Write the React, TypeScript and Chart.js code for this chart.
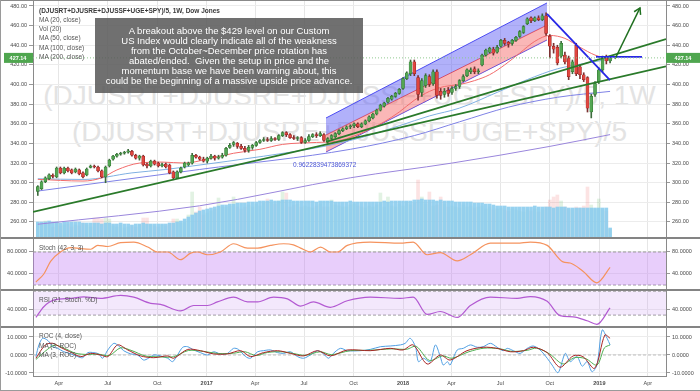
import React, { useEffect, useRef } from "react";
import { Chart, registerables } from "chart.js";

Chart.register(...registerables);

const FONT = "'Liberation Sans', Arial, sans-serif";
const START_UTC = Date.UTC(2016, 1, 22);
const WEEK_MS = 7 * 24 * 3600 * 1000;
const X_MIN = -1.275;
const X_MAX = 166.85;

const TICK_LABELS = ["Apr", "Jul", "Oct", "2017", "Apr", "Jul", "Oct", "2018", "Apr", "Jul", "Oct", "2019", "Apr"];
const TICK_MONTHS = [[2016, 3], [2016, 6], [2016, 9], [2017, 0], [2017, 3], [2017, 6], [2017, 9], [2018, 0], [2018, 3], [2018, 6], [2018, 9], [2019, 0], [2019, 3]];
const TICK_POS = TICK_MONTHS.map(([yy, mm]) => (Date.UTC(yy, mm, 1) - START_UTC) / WEEK_MS);

const OPEN = [
  291, 294, 301, 304, 307.5, 306, 315, 310, 315, 313,
  311, 313, 310, 308, 315.5, 317, 316, 312, 306, 317,
  324, 327, 329, 330, 331, 332, 328, 325, 327, 319,
  317, 322, 320, 317, 319, 318, 311, 305, 311, 316,
  318, 320, 328, 326, 324, 322, 325, 327, 325, 326,
  328, 336, 339, 340, 337, 335, 333, 336, 338, 341,
  343, 344, 343, 345, 344, 348, 351, 349, 346, 345,
  346, 341, 343, 347, 349, 348, 349, 342, 345, 347,
  350, 353, 355, 357, 358, 360, 357, 360, 363, 366,
  370, 374, 378, 382, 385, 388, 391, 396, 406, 411,
  423, 407, 392, 399, 408, 401, 413, 393, 390, 394,
  392, 396, 398, 404, 409, 413, 416, 413, 420, 430,
  433, 436, 433, 439, 445, 443, 442, 445, 449, 453,
  462, 468, 465, 468, 466, 470, 449, 439, 438, 429,
  430, 427, 413, 440, 418, 410, 407, 372, 390, 403,
  415, 427, 424,
];
const HIGH = [
  297, 302, 306, 309, 309, 316, 316, 316, 316, 314,
  315, 314, 311, 315, 318, 318, 317, 313, 317, 324,
  328, 330, 331, 332, 334, 333, 329, 328, 328, 320,
  323, 323, 321, 320, 320, 319, 312, 312, 316, 321,
  321, 330, 329, 327, 326, 326, 329, 328, 328, 330,
  336, 340, 342, 341, 339, 337, 338, 339, 342, 344,
  346, 346, 347, 346, 349, 352, 352, 350, 348, 347,
  347, 345, 349, 350, 351, 352, 350, 346, 349, 351,
  354, 356, 358, 359, 361, 361, 361, 364, 368, 371,
  375, 380, 382, 387, 389, 392, 396, 407, 413, 425,
  425, 409, 406, 411, 410, 415, 415, 396, 396, 397,
  398, 400, 405, 410, 416, 417, 418, 416, 431, 436,
  438, 438, 440, 446, 447, 444, 446, 449, 455, 460,
  468, 469, 469, 470, 472, 473, 451, 442, 440, 444,
  433, 429, 425, 442, 420, 412, 408, 390, 403, 417,
  429, 430, 429,
];
const LOW = [
  287, 293, 300, 303, 305, 305, 309, 309, 311, 309,
  310, 308, 305, 307, 315, 315, 311, 305, 300, 316,
  323, 326, 328, 329, 330, 327, 324, 323, 317, 315,
  316, 318, 316, 316, 315, 309, 303, 304, 310, 315,
  317, 319, 325, 323, 321, 320, 324, 323, 324, 325,
  327, 335, 337, 335, 334, 331, 331, 334, 337, 340,
  342, 342, 342, 343, 343, 347, 347, 345, 344, 343,
  340, 340, 342, 346, 346, 347, 342, 340, 344, 346,
  349, 352, 354, 355, 356, 356, 356, 359, 362, 365,
  369, 373, 377, 381, 384, 387, 390, 395, 405, 409,
  409, 384, 388, 397, 398, 399, 386, 385, 387, 388,
  390, 394, 396, 403, 408, 411, 411, 411, 419, 429,
  432, 430, 432, 438, 440, 438, 440, 444, 448, 452,
  461, 463, 464, 465, 465, 450, 427, 432, 420, 427,
  421, 405, 411, 409, 406, 403, 372, 366, 388, 401,
  413, 421, 422,
];
const CLOSE = [
  296, 301, 305, 308, 306.5, 315, 310, 315, 312, 310,
  314, 309, 306, 314, 317, 316, 312, 306, 316, 323,
  327, 329, 330, 331, 332.5, 328, 325, 327, 318, 317,
  322, 319, 317, 318.5, 316, 310, 305, 311, 315, 320,
  320, 328, 326, 324, 322, 325, 327, 325, 326, 328,
  335, 338, 341, 337, 335, 333, 336, 338, 341, 343,
  344, 343, 345, 344, 348, 351, 349, 346, 345, 346,
  341, 343, 347, 349, 348, 350, 343, 345, 348, 350,
  353, 355, 357, 358, 360, 357, 360, 363, 367, 370,
  374, 379, 381, 386, 388, 391, 395, 406, 412, 423,
  411, 390, 404, 409, 400, 413, 389, 389, 393, 391,
  396, 398, 404, 408, 415, 415, 413, 414, 430, 435,
  437, 432, 438, 445, 442, 441, 445, 448, 454, 459,
  467, 465, 468, 466, 470, 452, 439, 436, 422, 442,
  423, 408, 423, 411, 410, 405, 376, 388, 401, 415,
  427, 424, 427.14,
];
const VOLUME = [
  14, 12, 16, 13, 10, 15, 11, 12, 13, 10,
  12, 11, 14, 12, 10, 19, 19, 18, 19, 18,
  11, 10, 12, 9, 10, 11, 10, 12, 19, 19,
  12, 11, 10, 12, 11, 13, 18, 18, 14, 15,
  22, 45, 25, 30, 22, 24, 26, 28, 39, 30,
  30, 31, 40, 30, 28, 30, 32, 30, 33, 31,
  34, 38, 35, 33, 36, 45, 44, 30, 32, 33,
  30, 31, 30, 29, 31, 33, 30, 30, 37, 32,
  31, 30, 30, 32, 33, 31, 30, 29, 31, 30,
  32, 44, 30, 40, 31, 30, 33, 31, 35, 32,
  34, 57, 40, 33, 45, 31, 32, 40, 33, 30,
  31, 30, 29, 32, 30, 31, 29, 30, 31, 28,
  30, 27, 28, 29, 27, 26, 28, 27, 26, 25,
  27, 26, 28, 25, 27, 30, 37, 40, 42, 36,
  30, 28, 27, 30, 29, 31, 50, 32, 28, 38,
  27, 26, 8,
];
const VOLUME_MA = [
  15, 15, 15, 16, 15, 15, 14, 15, 15, 15,
  15, 15, 14, 14, 14, 14, 14, 13, 14, 14,
  13, 13, 14, 13, 13, 12, 13, 13, 14, 13,
  13, 13, 13, 13, 13, 14, 14, 15, 16, 18,
  20, 22, 24, 26, 27, 28, 29, 30, 31, 32,
  32, 33, 33, 34, 34, 34, 35, 35, 35, 36,
  36, 36, 37, 36, 36, 37, 37, 37, 36, 36,
  36, 36, 36, 36, 35, 36, 36, 36, 36, 35,
  35, 35, 35, 36, 35, 35, 35, 35, 35, 35,
  35, 35, 36, 35, 36, 36, 36, 36, 36, 36,
  37, 37, 38, 37, 37, 37, 36, 37, 36, 36,
  36, 35, 35, 35, 35, 35, 34, 34, 34, 33,
  33, 32, 31, 31, 31, 30, 30, 30, 30, 30,
  30, 30, 31, 30, 30, 30, 30, 29, 30, 30,
  30, 29, 29, 29, 29, 29, 29, 29, 29, 29,
  29, 29, 9,
];

const MA20 = [[0, 303.4], [12, 301.7], [17, 305], [21, 313], [27, 320], [33, 321], [39, 320], [45, 324], [52, 330], [59, 334], [65, 339], [74, 341], [79, 342], [83, 346], [88, 354], [92, 362], [96, 372], [100, 384], [104, 393], [108, 398], [112, 400], [116, 404], [120, 410], [124, 420], [128, 432], [132, 444], [136, 450], [140, 447], [144, 438], [148, 430], [152, 426]];
const MA50 = [[0, 304], [12, 303.3], [25, 310], [34, 313.5], [41, 317], [60, 327], [76, 337], [86, 346], [96, 358], [104, 368], [112, 376], [122, 392], [130, 405], [138, 416], [146, 422], [152, 426]];
const MA100 = [[0, 291.5], [43, 313.5], [83, 334], [100, 348], [112, 362], [125, 377], [138, 387], [152, 393]];
const MA200 = [[0, 257.7], [43, 276.5], [83, 305], [110, 320], [136, 337], [152, 349]];

const LOWER_TREND = [[-1.275, 270.2], [166.85, 418.6]];
const UPPER_TREND = [[76.55, 341.5], [166.85, 446.3]];
const CHANNEL_TOP = [[76.55, 365.9], [135.24, 483.1]];
const CHANNEL_MID = [[76.55, 348.6], [135.24, 460.6]];
const CHANNEL_BOTTOM = [[76.55, 331.3], [135.24, 445.4]];
const DOWN_TREND = [[135.24, 471.9], [151.97, 404.6]];
const BREAKOUT_LEVEL = [[148.26, 428.1], [160.48, 428.1]];
const TARGET_ARROW = [[153.3, 426.0], [159.94, 478.0]];
const ANGLE_LABEL = { text: "0.9622839473869372", x: 67.8, y: 318.1 };

const STOCH = [[-0.5, 25.5], [1.6, 40], [3.4, 63], [6.1, 80.5], [8.8, 88], [11.4, 86], [14.1, 85], [15.9, 92], [18.6, 90], [22, 97], [25.5, 98], [29.2, 89], [31.8, 80], [34.5, 80], [37.9, 66], [40.6, 78], [42.4, 80], [45.1, 75], [48.5, 80], [52, 95], [55.7, 87], [58.4, 87], [61.8, 92], [65.3, 95], [67.9, 93], [69.8, 87], [72.4, 80], [75.1, 89], [77.7, 80], [79.6, 80], [82.2, 92], [88.3, 98], [96.3, 96], [99.7, 98], [103.4, 75], [106.9, 79], [111.4, 64], [114.9, 75], [120.2, 96], [127.3, 96], [130.8, 98], [135.3, 92], [139.5, 62], [141.4, 60], [144.8, 45], [148.5, 24], [152, 52]];
const RSI = [[-0.5, 26], [1.6, 44], [4.2, 55], [8.8, 58], [12.2, 60.5], [16.7, 58], [22, 63], [25.5, 60], [30, 49.5], [32.6, 48], [37.9, 37], [41.4, 46], [45.1, 46], [47.7, 52], [52, 60], [55.7, 52], [58.4, 52], [62.6, 60], [66.3, 57], [69.8, 45], [73.2, 52], [77.7, 43], [82.2, 54], [88.3, 60], [96.3, 58], [99.7, 60], [103.4, 31], [106.9, 36], [111.4, 26], [114.9, 46], [120.2, 60], [127.3, 58], [130.8, 61], [135.3, 53], [138.7, 29], [142.2, 27], [145.9, 20.5], [148.5, 14.5], [152, 42]];
const ROC = [[-0.5, -0.9], [0.3, 5.6], [1.3, 9.3], [2.7, 8], [4, 4.6], [5.3, 3.7], [6.9, 1.8], [8.8, 0.6], [10.6, -0.9], [11.9, -1.5], [13.3, 1.3], [14.9, 1.3], [16.2, 0.6], [17.2, -1.8], [18.6, 2.8], [20.2, 6.5], [21.5, 5], [22.8, 2.4], [24.7, 0.6], [26.5, 0], [28.1, -2.8], [29.4, -1.8], [30.8, 0], [32.6, -0.5], [34.5, -1.8], [35.8, -3.7], [37.1, 0], [38.5, 4.3], [39.8, 4.6], [41.4, 2.8], [43.2, 1.3], [45.1, 0], [46.7, 1.8], [48.5, 0.6], [50.4, 0.9], [52, 3.7], [53.3, 3.1], [55.2, -0.9], [56.5, -1.8], [58.4, 1.8], [59.9, 2.4], [61.8, 2.8], [63.7, 1.3], [65.3, 0.9], [67.1, 1.8], [69, -0.9], [70.6, -1.8], [72.4, 0], [74.3, 2.4], [75.9, 0.6], [77.2, -1.8], [78.5, 0.9], [80.4, 3.7], [82.2, 2.4], [85.7, 2.4], [88.3, 3.1], [91, 4.6], [93.6, 5], [96.3, 5.6], [97.6, 6.5], [98.9, 9.3], [100.3, 4.6], [101.1, -3.7], [102.4, -1.8], [104.2, -3.7], [105.6, 5.6], [106.9, -0.9], [107.7, -5.6], [108.8, -3.7], [109.5, -5.6], [111.4, 2.8], [113, 3.7], [114.9, 5.6], [116.7, 4.3], [118.3, 4.6], [120.2, 6.5], [122, 4.3], [123.6, 2.4], [124.7, 3.7], [126.3, 2.4], [128.1, 0.9], [130, 3.7], [131.6, 5], [133.4, 2.8], [135.3, -1.8], [136.6, -5.6], [138.2, -9.8], [140.1, 0.9], [141.4, -3.7], [143.2, -0.9], [144.6, -6.2], [145.9, -3.7], [147.2, -9.3], [148.5, -5.6], [149.9, 13.9], [151.2, 9.3], [152, 5.6]];
const ROC_MA_RED = [[-0.5, -1.8], [2, 5.6], [4, 6.5], [6, 4.3], [8.5, 1.8], [11.4, -0.9], [14, 0.9], [16.7, 0], [18.6, -0.9], [21.2, 5.6], [23.9, 2.8], [27.3, -0.5], [30.8, -1.5], [34.5, -0.5], [36.1, -1.8], [39.8, 3.1], [43.2, 2.4], [46.7, 0.6], [50.4, 0.6], [53.9, 2.4], [56.5, -0.9], [59.9, 1.3], [63.7, 2.4], [67.1, 0.9], [70.6, -0.5], [74.3, 2.4], [77.7, -0.5], [82.2, 2.8], [88.3, 2.4], [93.6, 3.7], [97, 2.8], [99.7, 5.6], [103.4, -5], [106.9, 0], [109.5, -2.8], [114, 2.4], [118.3, 4.3], [122, 3.7], [125.5, 1.8], [129, 2.4], [131.6, 4.3], [135.3, 1.3], [138.7, -6.8], [142.2, -0.5], [144.8, -0.9], [147.9, -7.4], [150.6, 11.1], [152, 9.3]];
const ROC_MA_GREEN = [[-0.5, -2.5], [2.5, 3], [4.5, 5.5], [7, 3.8], [10, 1], [13, 0.3], [16, 0.5], [19, -0.3], [22, 4], [25, 2.4], [28.5, -0.5], [32, -1], [36, -1], [40, 2.5], [44, 2], [48, 0.8], [52, 1], [55, 1.8], [58, -0.3], [61, 1.4], [65, 1.8], [68, 0.8], [71, -0.2], [75, 1.8], [78, 0.2], [83, 2.4], [88, 2.6], [94, 3.4], [98, 3.2], [100.5, 4.8], [104, -3], [107.5, -0.5], [110, -1.8], [114.5, 1.8], [118.5, 3.8], [122.5, 3.5], [126, 2], [130, 2.6], [132.5, 3.8], [136, 0.5], [139.5, -5], [142.5, -1.5], [145.5, -2], [148.5, -5.6], [150.5, 4], [152, 5.6]];

const PRICE_TICKS = [260, 280, 300, 320, 340, 360, 380, 400, 420, 440, 460, 480];
const STOCH_TICKS = [40, 80];
const RSI_TICKS = [40];
const ROC_TICKS = [-10, 0, 10];
const STOCH_BAND = [20, 80];
const RSI_BAND = [30, 70];
const ROC_ZERO = [0];
const LAST_CLOSE = CLOSE[CLOSE.length - 1];

const LEGEND_TITLE = "(DJUSRT+DJUSRE+DJUSSF+UGE+SPY)/5, 1W, Dow Jones";
const LEGEND_ITEMS = ["MA (20, close)", "Vol (20)", "MA (50, close)", "MA (100, close)", "MA (200, close)"];
const WATERMARK = ["(DJUSRT+DJUSRE+DJUSSF+UGE+SPY)/5, 1W", "(DJUSRT+DJUSRE+DJUSSF+UGE+SPY)/5"];
const NOTE_LINES = [
  "A breakout above the $429 level on our Custom",
  "US Index would clearly indicate all of the weakness",
  "from the October~December price rotation has",
  "abated/ended.  Given the setup in price and the",
  "momentum base we have been warning about, this",
  "could be the beginning of a massive upside price advance.",
];
const STOCH_TITLE = "Stoch (42, 3, 3)";
const RSI_TITLE = "RSI (21, Stoch. %D)";
const ROC_TITLES = ["ROC (4, close)", "MA (3, ROC)", "MA (3, ROC)"];

const pts = (arr: number[][]) => arr.map(([x, y]) => ({ x, y }));
const hline = (v: number) => [{ x: X_MIN, y: v }, { x: X_MAX, y: v }];
const IDX = CLOSE.map((_, i) => i);
const isUp = (i: number) => CLOSE[i] >= OPEN[i];

const common: any = {
  responsive: false,
  animation: false,
  events: [],
  layout: { padding: 0 },
  plugins: { legend: { display: false }, tooltip: { enabled: false } },
};

function xAxis(showLabels: boolean): any {
  return {
    type: "linear",
    min: X_MIN,
    max: X_MAX,
    offset: false,
    grid: { color: "#e6e6e6", drawTicks: false, offset: false },
    border: { display: showLabels, color: "#8a8a8a" },
    ticks: {
      display: showLabels,
      autoSkip: false,
      maxRotation: 0,
      padding: 4,
      color: "#4a4a4a",
      font: (c: any) => ({ size: 5.5, family: FONT, weight: /^\d{4}$/.test(TICK_LABELS[c.index] || "") ? "bold" : "normal" }),
      callback: (_v: any, i: number) => TICK_LABELS[i],
    },
    afterBuildTicks: (s: any) => {
      s.ticks = TICK_POS.map((v) => ({ value: v }));
    },
    afterFit: (s: any) => {
      s.height = showLabels ? 15 : 0;
      s.paddingLeft = 0;
      s.paddingRight = 0;
    },
  };
}

function yPair(min: number, max: number, values: number[], digits: number): any {
  const ticks = { color: "#4a4a4a", font: { size: 5.5, family: FONT }, padding: 2, callback: (v: any) => Number(v).toFixed(digits) };
  const build = (s: any) => {
    s.ticks = values.map((v) => ({ value: v }));
  };
  return {
    y: {
      type: "linear", position: "left", min, max,
      grid: { color: "#ececec", tickLength: 4, tickColor: "#999" },
      border: { color: "#8a8a8a" },
      ticks, afterBuildTicks: build,
      afterFit: (s: any) => { s.width = 33; s.paddingTop = 0; s.paddingBottom = 0; },
    },
    y2: {
      type: "linear", position: "right", min, max,
      grid: { drawOnChartArea: false, tickLength: 4, tickColor: "#999" },
      border: { color: "#8a8a8a" },
      ticks, afterBuildTicks: build,
      afterFit: (s: any) => { s.width = 34; s.paddingTop = 0; s.paddingBottom = 0; },
    },
  };
}

const line = (data: any, color: string, width: number, order: number, extra: any = {}) => ({
  type: "line", data, borderColor: color, borderWidth: width, pointRadius: 0, fill: false, order, ...extra,
});

const mainExtras = {
  id: "mainExtras",
  afterDatasetsDraw(chart: any) {
    const { ctx, scales } = chart;
    const x = scales.x, y = scales.y;
    const ai = chart.data.datasets.findIndex((d: any) => d.label === "arrow");
    const meta = chart.getDatasetMeta(ai);
    const p0 = meta.data[0], p1 = meta.data[1];
    const ang = Math.atan2(p1.y - p0.y, p1.x - p0.x);
    ctx.save();
    ctx.strokeStyle = "#1f6f1f";
    ctx.lineWidth = 1.5;
    ctx.beginPath();
    ctx.moveTo(p1.x + 7 * Math.cos(ang + 2.6), p1.y + 7 * Math.sin(ang + 2.6));
    ctx.lineTo(p1.x, p1.y);
    ctx.lineTo(p1.x + 7 * Math.cos(ang - 2.6), p1.y + 7 * Math.sin(ang - 2.6));
    ctx.stroke();
    ctx.fillStyle = "#4a55d8";
    ctx.font = `6.5px ${FONT}`;
    ctx.textBaseline = "middle";
    ctx.textAlign = "left";
    ctx.fillText(ANGLE_LABEL.text, x.getPixelForValue(ANGLE_LABEL.x), y.getPixelForValue(ANGLE_LABEL.y));
    ctx.restore();
  },
  afterDraw(chart: any) {
    const { ctx, chartArea, scales } = chart;
    const py = scales.y.getPixelForValue(LAST_CLOSE);
    ctx.save();
    ctx.fillStyle = "#4fa64f";
    ctx.fillRect(chartArea.left - 29, py - 5, 29, 10);
    ctx.fillRect(chartArea.right, py - 5, chart.width - chartArea.right, 10);
    ctx.fillStyle = "#fff";
    ctx.font = `bold 5.5px ${FONT}`;
    ctx.textBaseline = "middle";
    ctx.textAlign = "center";
    const label = LAST_CLOSE.toFixed(2);
    ctx.fillText(label, chartArea.left - 15, py + 0.5);
    ctx.fillText(label, (chartArea.right + chart.width) / 2, py + 0.5);
    ctx.restore();
  },
};

function mainConfig(): any {
  return {
    type: "bar",
    data: {
      datasets: [
        line(hline(LAST_CLOSE), "#8fc98f", 1, 1, { borderDash: [1, 2] }),
        line(pts(TARGET_ARROW), "#1f6f1f", 1.5, 2, { label: "arrow" }),
        line(pts(BREAKOUT_LEVEL), "#2727e6", 1.8, 3),
        line(pts(DOWN_TREND), "#2727e6", 1.8, 3),
        line(pts(UPPER_TREND), "#2a7a2a", 1.8, 4),
        line(pts(LOWER_TREND), "#2a7a2a", 1.8, 4),
        {
          type: "bar", order: 10, grouped: false, barThickness: 3, minBarLength: 1,
          data: IDX.map((i) => ({ x: i, y: [OPEN[i], CLOSE[i]] })),
          backgroundColor: IDX.map((i) => (isUp(i) ? "#53a653" : "#e0463f")),
          borderColor: IDX.map((i) => (isUp(i) ? "#2f6f2f" : "#8a2020")),
          borderWidth: 0.5, borderSkipped: false,
        },
        {
          type: "bar", order: 11, grouped: false, barThickness: 1,
          data: IDX.map((i) => ({ x: i, y: [LOW[i], HIGH[i]] })),
          backgroundColor: IDX.map((i) => (isUp(i) ? "#3d6b3d" : "#7a3030")),
        },
        line(pts(MA20), "#f26b6b", 1, 20, { tension: 0.4, cubicInterpolationMode: "monotone" }),
        line(pts(MA50), "#7fb0e2", 1, 21, { tension: 0.4, cubicInterpolationMode: "monotone" }),
        line(pts(MA100), "#7f82e6", 1, 21, { tension: 0.4, cubicInterpolationMode: "monotone" }),
        line(pts(MA200), "#9a86dc", 1, 21, { tension: 0.4, cubicInterpolationMode: "monotone" }),
        line(pts(CHANNEL_TOP), "#4b4bf2", 1, 30, { fill: "+1", backgroundColor: "rgba(92,92,245,0.48)" }),
        line(pts(CHANNEL_MID), "#f04a4a", 1, 30, { fill: "+1", backgroundColor: "rgba(245,95,95,0.45)" }),
        line(pts(CHANNEL_BOTTOM), "#4b4bf2", 1, 30),
        {
          type: "bar", order: 40, grouped: false, barThickness: 3, yAxisID: "yv",
          data: IDX.map((i) => ({ x: i, y: VOLUME_MA[i] })),
          backgroundColor: "rgba(140,205,238,0.9)",
        },
        {
          type: "bar", order: 41, grouped: false, barThickness: 3, yAxisID: "yv",
          data: IDX.map((i) => ({ x: i, y: VOLUME[i] })),
          backgroundColor: IDX.map((i) => (isUp(i) ? "rgba(76,175,80,0.16)" : "rgba(239,83,80,0.16)")),
        },
      ],
    },
    options: {
      ...common,
      scales: {
        x: xAxis(false),
        ...yPair(244.7, 486.1, PRICE_TICKS, 2),
        yv: { type: "linear", display: false, min: 0, max: 237 },
      },
    },
    plugins: [mainExtras],
  };
}

function bandConfig(band: number[], fillColor: string, series: any[], min: number, max: number, ticks: number[], showX: boolean): any {
  const ds: any[] = [];
  if (band.length === 2) {
    ds.push(line(hline(band[1]), "#9a9a9a", 1, 50, { borderDash: [3, 2], fill: "+1", backgroundColor: fillColor }));
    ds.push(line(hline(band[0]), "#9a9a9a", 1, 50, { borderDash: [3, 2] }));
  } else {
    ds.push(line(hline(band[0]), "#bdbdbd", 1, 50, { borderDash: [3, 2] }));
  }
  return {
    type: "line",
    data: { datasets: [...ds, ...series] },
    options: { ...common, scales: { x: xAxis(showX), ...yPair(min, max, ticks, 4) } },
  };
}

export default function App() {
  const mainRef = useRef<HTMLCanvasElement>(null);
  const stochRef = useRef<HTMLCanvasElement>(null);
  const rsiRef = useRef<HTMLCanvasElement>(null);
  const rocRef = useRef<HTMLCanvasElement>(null);

  useEffect(() => {
    const smooth = { tension: 0.4, cubicInterpolationMode: "monotone" };
    const charts = [
      new Chart(mainRef.current as any, mainConfig()),
      new Chart(stochRef.current as any, bandConfig(STOCH_BAND, "rgba(195,125,245,0.38)", [line(pts(STOCH), "#f5935e", 1.2, 1, smooth)], 12.7, 103.6, STOCH_TICKS, false)),
      new Chart(rsiRef.current as any, bandConfig(RSI_BAND, "rgba(200,150,240,0.22)", [line(pts(RSI), "#b35ad2", 1.2, 1, smooth)], 11.7, 70.3, RSI_TICKS, false)),
      new Chart(rocRef.current as any, bandConfig(ROC_ZERO, "", [
        line(pts(ROC), "#4f9fe3", 1, 3, { tension: 0.3 }),
        line(pts(ROC_MA_GREEN), "#4caf50", 1, 2, { tension: 0.3 }),
        line(pts(ROC_MA_RED), "#a82424", 1, 1, { tension: 0.3 }),
      ], -11.67, 15.0, ROC_TICKS, true)),
    ];
    return () => charts.forEach((c) => c.destroy());
  }, []);

  const abs = (s: any): any => ({ position: "absolute", ...s });
  const small: any = { fontFamily: FONT, fontSize: 6.5, color: "#555", whiteSpace: "nowrap", lineHeight: "9.3px" };

  return (
    <div style={{ position: "fixed", left: 0, top: 0, width: 700, height: 391, background: "#fff", overflow: "hidden" }}>
      {WATERMARK.map((t, k) => (
        <div key={k} style={abs({ left: 33, width: 633, top: k === 0 ? 82 : 118, height: 28, lineHeight: "28px", textAlign: "center", fontFamily: FONT, fontSize: 28, color: "#e3e3e3", whiteSpace: "nowrap" })}>{t}</div>
      ))}
      <canvas ref={mainRef} width={700} height={237} style={abs({ left: 0, top: 0, width: 700, height: 237 })} />
      <canvas ref={stochRef} width={700} height={50} style={abs({ left: 0, top: 239, width: 700, height: 50 })} />
      <canvas ref={rsiRef} width={700} height={35} style={abs({ left: 0, top: 291, width: 700, height: 35 })} />
      <canvas ref={rocRef} width={700} height={63} style={abs({ left: 0, top: 328, width: 700, height: 63 })} />

      <div style={abs({ left: 0, top: 0, width: 700, height: 1, background: "#8a8a8a" })} />
      <div style={abs({ left: 0, top: 237, width: 700, height: 2, background: "#848484" })} />
      <div style={abs({ left: 0, top: 289, width: 700, height: 2, background: "#848484" })} />
      <div style={abs({ left: 0, top: 326, width: 700, height: 2, background: "#848484" })} />
      <div style={abs({ left: 0, top: 390, width: 700, height: 1, background: "#9a9a9a" })} />
      <div style={abs({ left: 0, top: 0, width: 1, height: 391, background: "#9a9a9a" })} />

      <div style={abs({ left: 39, top: 5.6, ...small })}>
        <div style={{ fontWeight: "bold", color: "#3a3a3a" }}>{LEGEND_TITLE}</div>
        {LEGEND_ITEMS.map((t) => (<div key={t}>{t}</div>))}
      </div>

      <div style={abs({ left: 95, top: 18, width: 268, height: 75, background: "rgba(88,88,88,0.86)", paddingTop: 7.7, boxSizing: "border-box" })}>
        {NOTE_LINES.map((t, k) => (
          <div key={k} style={{ textAlign: "center", color: "#fff", fontFamily: FONT, fontSize: 9.5, lineHeight: "10px", whiteSpace: "pre" }}>{t}</div>
        ))}
      </div>

      <div style={abs({ left: 39, top: 242.6, ...small })}>{STOCH_TITLE}</div>
      <div style={abs({ left: 39, top: 294.6, ...small })}>{RSI_TITLE}</div>
      <div style={abs({ left: 39, top: 331.4, ...small })}>
        {ROC_TITLES.map((t, k) => (<div key={k}>{t}</div>))}
      </div>
    </div>
  );
}
